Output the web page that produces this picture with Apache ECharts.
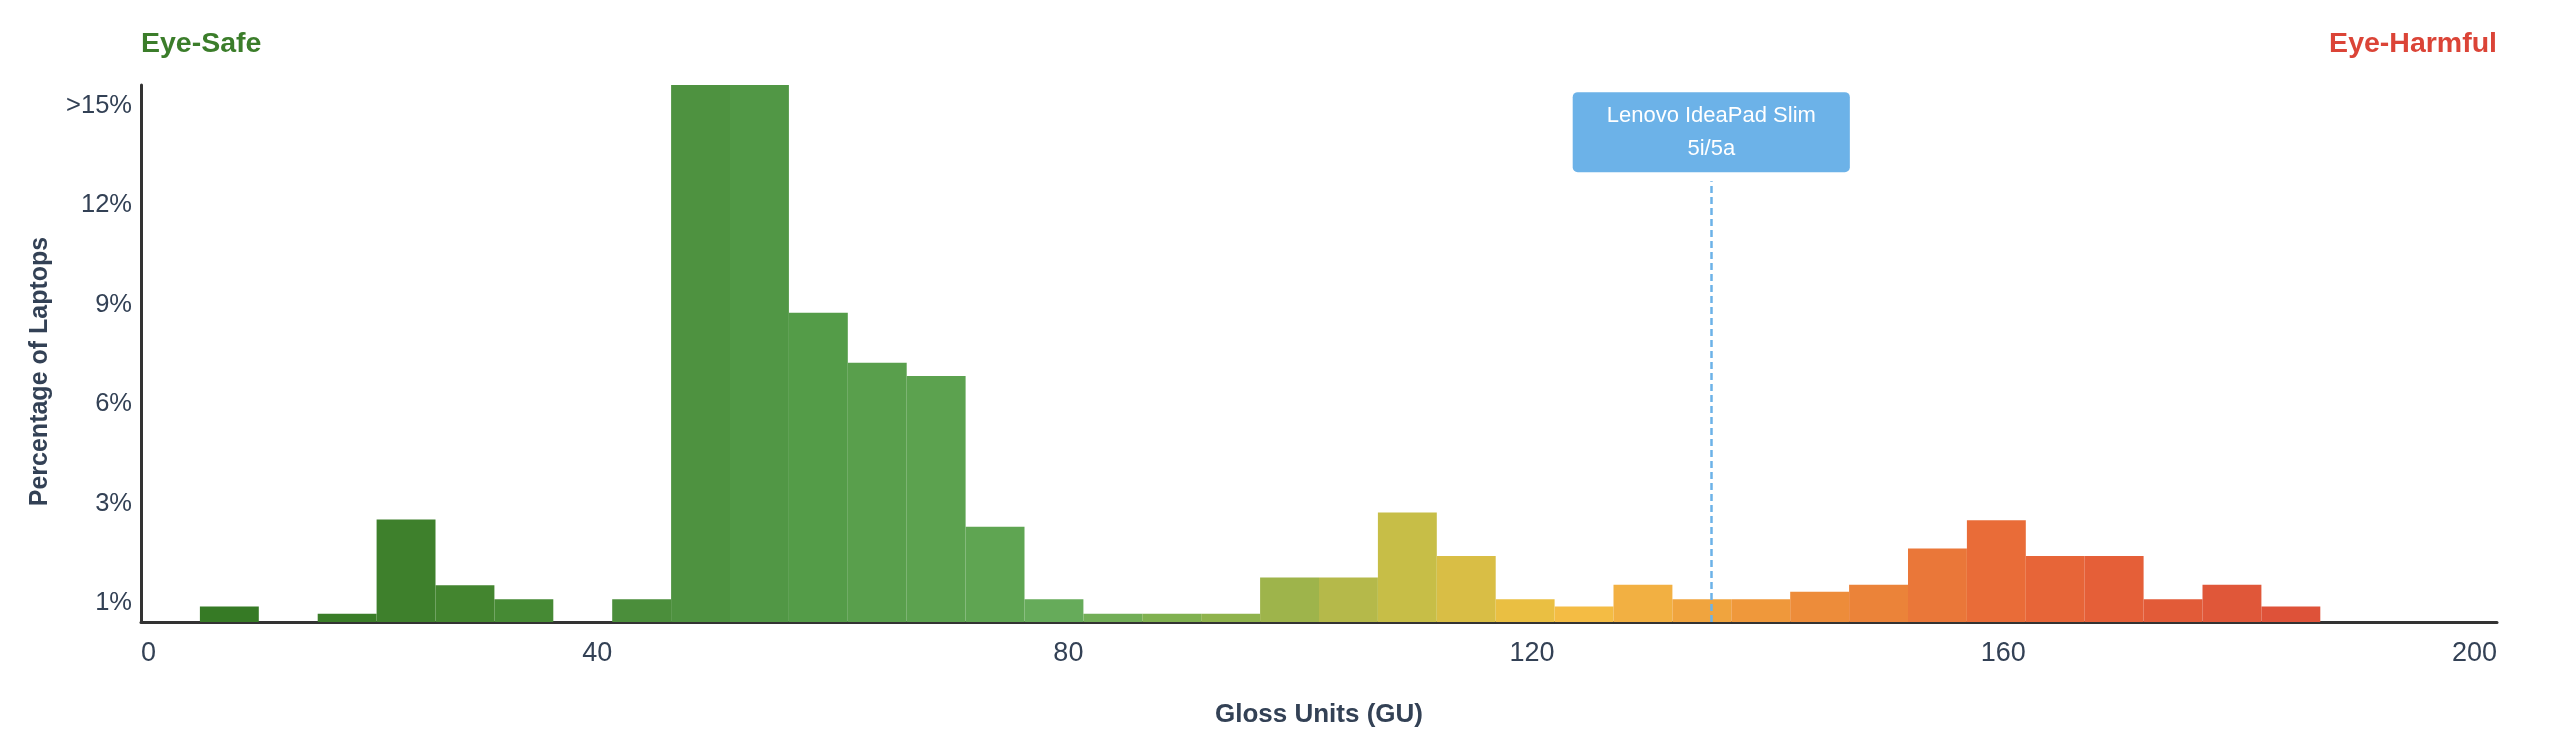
<!DOCTYPE html>
<html>
<head>
<meta charset="utf-8">
<title>Gloss distribution</title>
<script src="https://cdn.jsdelivr.net/npm/echarts@6/dist/echarts.min.js"></script>
<style>
	html, body {margin:0; padding:0; background:#fff;}
	#gloss {width:2560px; height:733px;}
</style>
</head>
<body>
<div id="gloss"></div>
<script>
// histogram bins, 5 GU wide
var binStart = [0,5,10,15,20,25,30,35,40,45,50,55,60,65,70,75,80,85,90,95,
	100,105,110,115,120,125,130,135,140,145,150,155,160,165,170,175,180,185,190,195];
var binWidth = 5;
// percentage of laptops per bin (45-55 are >15%, drawn at the top)
var percent = [0,0.47,0,0.25,3.09,1.11,0.69,0,0.69,16.2,16.2,9.33,7.82,7.42,2.87,0.69,0.25,0.25,0.25,1.34,
	1.34,3.3,1.99,0.69,0.47,1.12,0.69,0.69,0.91,1.12,2.22,3.07,1.99,1.99,0.69,1.12,0.47,0,0,0];
var binColors = ['#34781f','#367a25','#387b27','#3a7d28','#3e802c','#43852f','#468a34','#498c38','#4b8e3b','#4e9240',
	'#519745','#549c48','#599f4c','#5ca24f','#5fa552','#66ab5a','#72ae57','#80b150','#8fb34c','#9eb44b',
	'#b5b94a','#c7be47','#d9be45','#eabf42','#f4bc44','#f2b042','#f0a43e','#ef983b','#ed8c3a','#eb8339',
	'#ea7739','#e96c38','#e76538','#e55f38','#e25b38','#e05739','#de5239','#dc4e39','#da4a39','#d84639'];
var xTicks = [0,40,80,120,160,200];
var yTicks = [0,3,6,9,12,15];
var yTickText = ['1%','3%','6%','9%','12%','>15%'];
var marker = {name:'Lenovo IdeaPad Slim\n5i/5a', gloss:133.3, top:13.3};

var font = 'Liberation Sans, Arial, Helvetica, sans-serif';
var textColor = '#334155';

function renderBin(params, api){
	var a = api.coord([api.value(0), 0]);
	var b = api.coord([api.value(1), api.value(2)]);
	return {
		type:'rect',
		shape:{x:a[0], y:b[1], width:b[0]-a[0], height:a[1]-b[1]},
		style:{fill:binColors[params.dataIndex]}
	};
}

var chart = echarts.init(document.getElementById('gloss'));
var rows = [];
for (var i = 0; i < binStart.length; i++){
	rows.push([binStart[i], binStart[i]+binWidth, percent[i]]);
}

var option = {
	animation:false,
	textStyle:{fontFamily:font},
	title:[
		{
			text:'Eye-Safe', left:141, top:30, padding:0,
			textStyle:{color:'#3b7d2a', fontSize:28.5, fontWeight:'bold', fontFamily:font}
		},
		{
			text:'Eye-Harmful', right:63, top:30, padding:0,
			textStyle:{color:'#db4437', fontSize:28.5, fontWeight:'bold', fontFamily:font}
		}
	],
	grid:{left:141, right:63, top:85, bottom:102},
	xAxis:{
		type:'value',
		min:xTicks[0],
		max:xTicks[xTicks.length-1],
		interval:40,
		name:'Gloss Units (GU)',
		nameLocation:'middle',
		nameGap:80,
		nameTextStyle:{color:textColor, fontSize:26, fontWeight:'bold', fontFamily:font},
		axisLine:{show:true, lineStyle:{color:'#333', width:3}},
		axisTick:{show:false},
		splitLine:{show:false},
		axisLabel:{
			color:textColor, fontSize:27, margin:18, fontFamily:font,
			align:'right',
			alignMinLabel:'left', alignMaxLabel:'right'
		}
	},
	yAxis:{
		type:'value',
		min:yTicks[0],
		max:16.2,
		interval:3,
		name:'Percentage of Laptops',
		nameLocation:'middle',
		nameGap:88,
		nameTextStyle:{color:textColor, fontSize:25, fontWeight:'bold', fontFamily:font, padding:[0,36,0,0]},
		axisLine:{show:true, lineStyle:{color:'#333', width:3}},
		axisTick:{show:false},
		splitLine:{show:false},
		axisLabel:{
			color:textColor, fontSize:25.5, margin:9, fontFamily:font,
			verticalAlign:'bottom',
			lineHeight:38,
			formatter:function(v){
				var k = yTicks.indexOf(v);
				return k < 0 ? '' : yTickText[k];
			}
		}
	},
	series:[
		{
			type:'custom',
			renderItem:renderBin,
			encode:{x:[0,1], y:2},
			data:rows,
			markLine:{
				silent:true,
				symbol:['none','none'],
				lineStyle:{color:'#6cb2e8', width:2.5, type:[7,4]},
				label:{
					show:true,
					position:'end',
					distance:9,
					formatter:marker.name,
					color:'#fff',
					fontSize:22,
					lineHeight:33,
					fontFamily:font,
					backgroundColor:'#6cb2e8',
					borderRadius:5,
					padding:[7,34]
				},
				data:[[{coord:[marker.gloss, 0]}, {coord:[marker.gloss, marker.top]}]]
			}
		}
	]
};
chart.setOption(option);
</script>
</body>
</html>
